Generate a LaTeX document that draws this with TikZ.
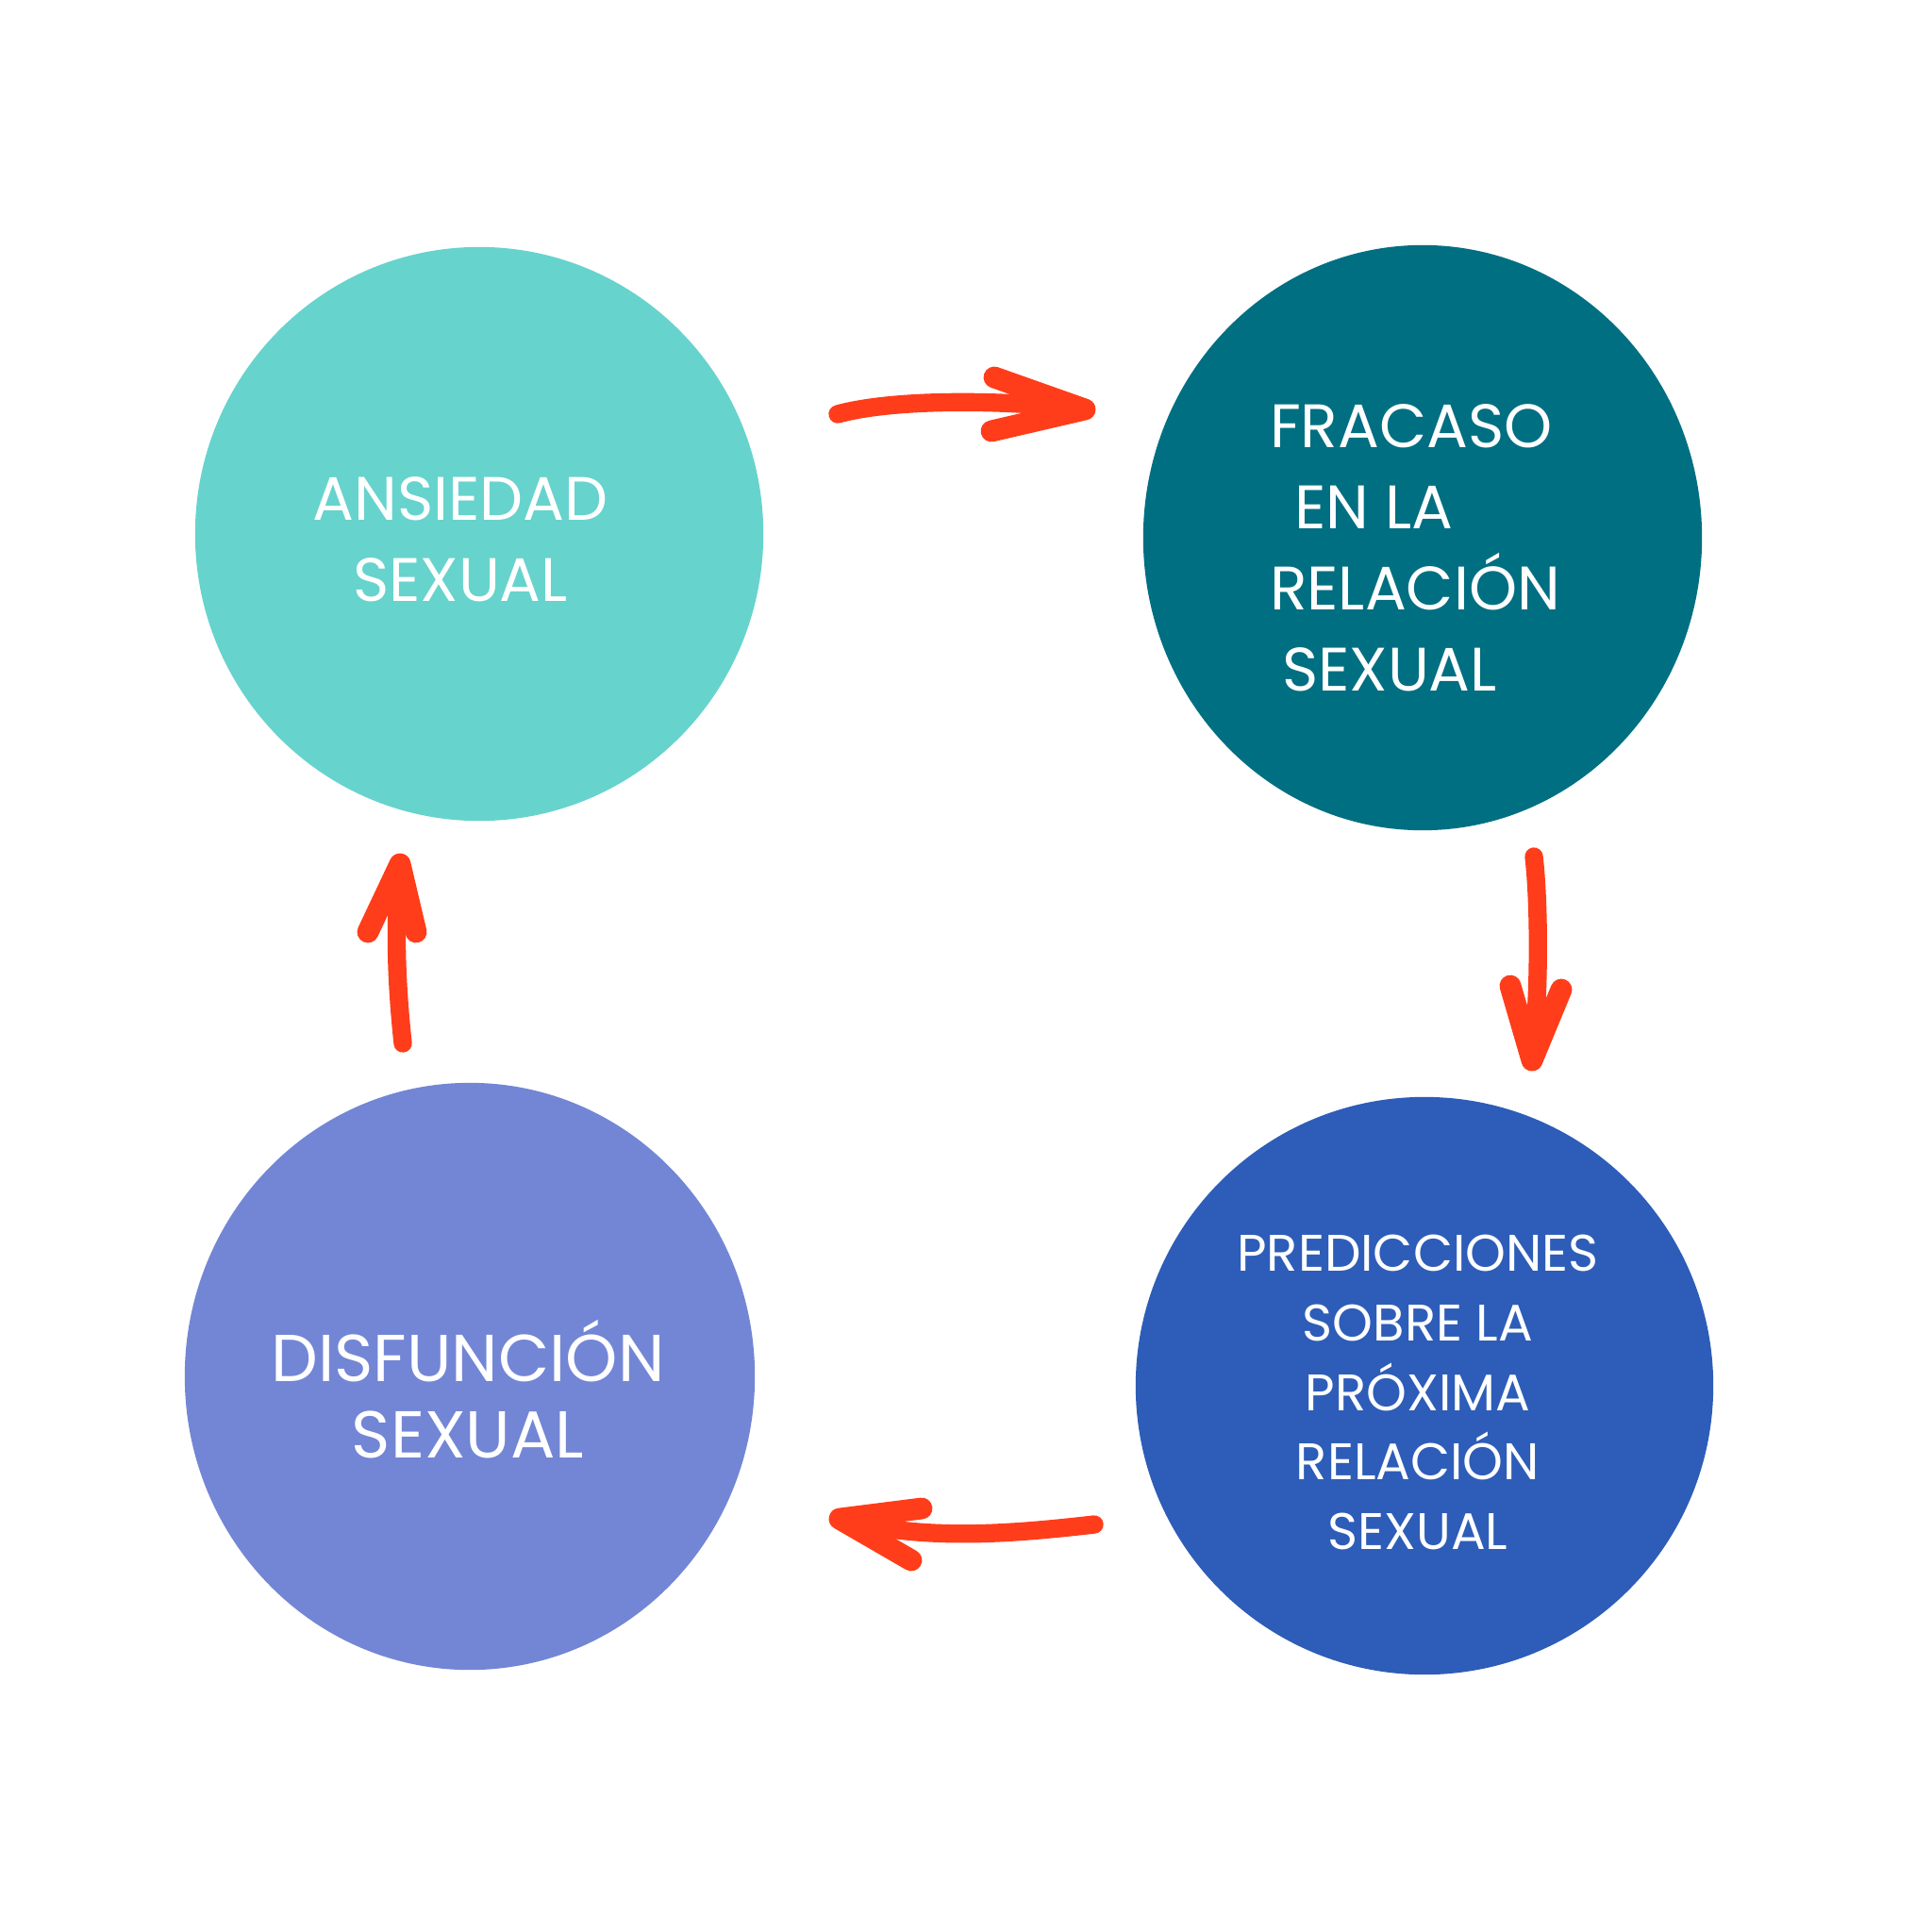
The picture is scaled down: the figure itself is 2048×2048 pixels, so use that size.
\documentclass[tikz,border=0pt]{standalone}
\usepackage{fontspec}
\setmainfont{Poppins}
\definecolor{cA}{HTML}{67D3CD}
\definecolor{cB}{HTML}{006F82}
\definecolor{cC}{HTML}{2D5DB8}
\definecolor{cD}{HTML}{7386D5}
\definecolor{arr}{HTML}{FF3D1A}
\usetikzlibrary{shapes.geometric}
\tikzset{
  blob/.style={ellipse, inner sep=0pt},
  lbl/.style={text=white, font=\fontsize{18.5}{24.5}\selectfont, align=center},
  shaft/.style={draw=arr, line width=5.5pt, line cap=round, line join=round},
  head/.style={draw=arr, line width=6.5pt, line cap=round, line join=round},
}
\begin{document}
\begin{tikzpicture}[x=0.01cm,y=-0.01cm]
\useasboundingbox (0,0) rectangle (2048,2048);
\fill[white] (0,0) rectangle (2048,2048);
% circles
\node[blob, fill=cA, minimum width=6.02cm, minimum height=6.08cm] (c1) at (508,566) {};
\node[blob, fill=cB, minimum width=5.92cm, minimum height=6.20cm] (c2) at (1508,570) {};
\node[blob, fill=cC, minimum width=6.12cm, minimum height=6.12cm] (c3) at (1510,1469) {};
\node[blob, fill=cD, minimum width=6.04cm, minimum height=6.22cm] (c4) at (498,1459) {};
% labels
\node[lbl] (t1) at (488,572) {ANSIEDAD\\SEXUAL};
\node[lbl, align=left] (t2) at (1500,581) {FRACASO\\\hspace*{0.4em}EN LA\\RELACIÓN\\\hspace*{0.2em}SEXUAL};
\node[lbl, font=\fontsize{15.5}{21}\selectfont] (t3) at (1503,1476) {PREDICCIONES\\SOBRE LA\\PRÓXIMA\\RELACIÓN\\SEXUAL};
\node[lbl, font=\fontsize{20}{23}\selectfont] (t4) at (496,1473) {DISFUNCIÓN\\SEXUAL};
% arrow coordinates
\coordinate (a1s) at (888,439);
\coordinate (a1t) at (1150,434);
\coordinate (a1u) at (1054,400);
\coordinate (a1l) at (1051,457);
\coordinate (a2s) at (1626,908);
\coordinate (a2t) at (1624,1124);
\coordinate (a2l) at (1601,1045);
\coordinate (a2r) at (1655,1049);
\coordinate (a3s) at (1160,1616);
\coordinate (a3t) at (890,1610);
\coordinate (a3u) at (977,1599);
\coordinate (a3l) at (966,1654);
\coordinate (a4s) at (427,1106);
\coordinate (a4t) at (424,916);
\coordinate (a4l) at (390,988);
\coordinate (a4r) at (441,988);
% arrows
\draw[shaft] (a1s) .. controls (950,422) and (1070,424) .. (a1t);
\draw[head] (a1u) -- (a1t) -- (a1l);
\draw[shaft] (a2s) .. controls (1632,960) and (1632,1060) .. (a2t);
\draw[head] (a2l) -- (a2t) -- (a2r);
\draw[shaft] (a3s) .. controls (1080,1625) and (980,1635) .. (a3t);
\draw[head] (a3u) -- (a3t) -- (a3l);
\draw[shaft] (a4s) .. controls (420,1040) and (418,980) .. (a4t);
\draw[head] (a4l) -- (a4t) -- (a4r);
\end{tikzpicture}
\end{document}
